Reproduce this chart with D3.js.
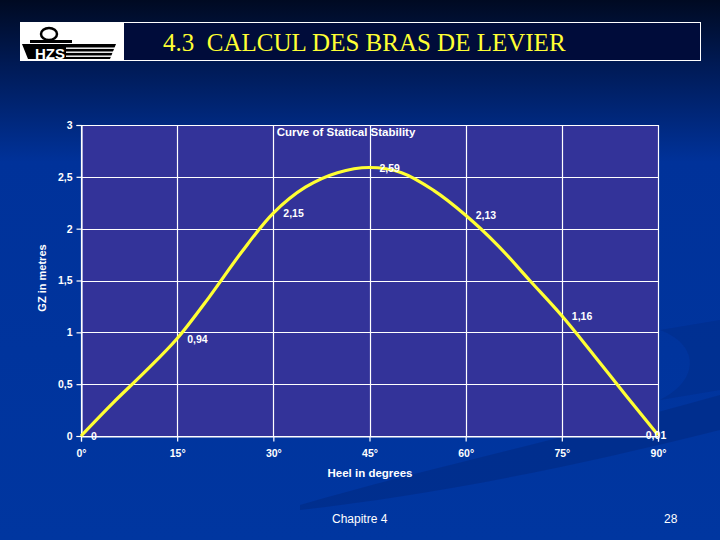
<!DOCTYPE html>
<html><head><meta charset="utf-8">
<script src="https://cdn.jsdelivr.net/npm/d3@7"></script>
<style>html,body{margin:0;padding:0;background:#002a8a;}svg{display:block;}</style>
</head><body>
<script>
const heelDegrees = [0, 5, 10, 15, 20, 25, 30, 35, 40, 45, 50, 55, 60, 65, 70, 75, 80, 85, 90];
const gzValues = [0, 0.32, 0.62, 0.94, 1.34, 1.77, 2.15, 2.40, 2.54, 2.59, 2.54, 2.37, 2.13, 1.84, 1.50, 1.16, 0.78, 0.39, 0.01];
const labelDegrees = [0, 15, 30, 45, 60, 75, 90];
const gzLabels = ["0", "0,94", "2,15", "2,59", "2,13", "1,16", "0,01"];
const yTicks = [0, 0.5, 1, 1.5, 2, 2.5, 3];
const yTickLabels = ["0", "0,5", "1", "1,5", "2", "2,5", "3"];
const xTicks = [0, 15, 30, 45, 60, 75, 90];
const xTickLabels = ["0°", "15°", "30°", "45°", "60°", "75°", "90°"];
const slideTitle = "4.3  CALCUL DES BRAS DE LEVIER";
const chartTitle = "Curve of Statical Stability";
const xTitle = "Heel in degrees";
const yTitle = "GZ in metres";
const footerLeft = "Chapitre 4";
const footerRight = "28";

(function(){
const W = 720, H = 540;
const svg = d3.select("body").append("svg").attr("width", W).attr("height", H);
const defs = svg.append("defs");
const bg = defs.append("linearGradient").attr("id","bg").attr("x1",0).attr("y1",0).attr("x2",0).attr("y2",1);
bg.append("stop").attr("offset","0%").attr("stop-color","#000a22");
bg.append("stop").attr("offset","12%").attr("stop-color","#001a55");
bg.append("stop").attr("offset","30%").attr("stop-color","#00329a");
bg.append("stop").attr("offset","100%").attr("stop-color","#0036a0");
svg.append("rect").attr("width",W).attr("height",H).attr("fill","url(#bg)");
// swoosh
svg.append("path")
  .attr("d","M300,505 C420,470 560,440 720,395 L720,430 C560,470 430,495 300,510 Z")
  .attr("fill","#002c88").attr("opacity",0.7);
svg.append("path")
  .attr("d","M660,330 C700,345 700,380 660,400 L720,390 L720,320 Z")
  .attr("fill","#002c88").attr("opacity",0.5);

// header
svg.append("rect").attr("x",20.5).attr("y",22.5).attr("width",680).attr("height",38)
  .attr("fill","#000c3a").attr("stroke","#ffffff").attr("stroke-width",1);
const logo = svg.append("g");
logo.append("rect").attr("x",20).attr("y",22).attr("width",104).attr("height",39).attr("fill","#ffffff");
logo.append("ellipse").attr("cx",49).attr("cy",34).attr("rx",8).attr("ry",6).attr("fill","none").attr("stroke","#000").attr("stroke-width",2.5);
logo.append("rect").attr("x",30).attr("y",40).attr("width",42).attr("height",3).attr("fill","#000");
logo.append("path").attr("d","M22,44 L116,44 L110,59 L28,59 Z").attr("fill","#000");
[47.5,51.5,55.5].forEach(y=>logo.append("rect").attr("x",66).attr("y",y).attr("width",52).attr("height",1.4).attr("fill","#fff"));
logo.append("text").attr("x",50).attr("y",58.5).attr("text-anchor","middle")
  .attr("font-family","Liberation Sans, Arial").attr("font-weight","bold").attr("font-size",15)
  .attr("textLength",30).attr("lengthAdjust","spacingAndGlyphs")
  .attr("fill","#fff").text("HZS");
svg.append("text").attr("x",163).attr("y",51).attr("fill","#ffff33")
  .attr("font-family","Liberation Serif, Times New Roman, serif").attr("font-size",25)
  .attr("xml:space","preserve").style("white-space","pre").text(slideTitle);

// chart
const pl = 81, pr = 658, pt = 125, pb = 436;
const x = d3.scaleLinear().domain([0,90]).range([pl,pr]);
const y = d3.scaleLinear().domain([0,3]).range([pb,pt]);
svg.append("rect").attr("x",pl).attr("y",pt).attr("width",pr-pl).attr("height",pb-pt).attr("fill","#333399");

const font = "Liberation Sans, Arial, sans-serif";
const g = svg.append("g");
g.selectAll("line.hg").data(yTicks).join("line")
  .attr("x1",pl).attr("x2",pr).attr("y1",d=>Math.round(y(d))+0.5).attr("y2",d=>Math.round(y(d))+0.5)
  .attr("stroke","#fff").attr("stroke-width",1.2);
g.selectAll("line.vg").data(xTicks).join("line")
  .attr("y1",pt).attr("y2",pb).attr("x1",d=>Math.round(x(d))+0.5).attr("x2",d=>Math.round(x(d))+0.5)
  .attr("stroke","#fff").attr("stroke-width",1.2);

const yAxis = d3.axisLeft(y).tickValues(yTicks).tickFormat((d,i)=>yTickLabels[i]).tickSize(5).tickPadding(4);
const ya = svg.append("g").attr("transform",`translate(${pl+0.5},0)`).call(yAxis);
const xAxis = d3.axisBottom(x).tickValues(xTicks).tickFormat((d,i)=>xTickLabels[i]).tickSize(5).tickPadding(8);
const xa = svg.append("g").attr("transform",`translate(0,${pb+0.5})`).call(xAxis);
[ya,xa].forEach(a=>{
  a.select(".domain").attr("stroke","#fff").attr("stroke-width",1.2);
  a.selectAll(".tick line").attr("stroke","#fff").attr("stroke-width",1.2);
  a.selectAll(".tick text").attr("fill","#fff").attr("font-family",font).attr("font-weight","bold").attr("font-size",10.5);
});

const line = d3.line().x((d,i)=>x(heelDegrees[i])).y(d=>y(d)).curve(d3.curveCatmullRom.alpha(0.5));
svg.append("path").datum(gzValues).attr("d",line).attr("fill","none")
  .attr("stroke","#ffff33").attr("stroke-width",3.2).attr("stroke-linejoin","round");

const labelData = labelDegrees.map((deg,i)=>({deg, v: gzValues[heelDegrees.indexOf(deg)], t: gzLabels[i]}));
const last = labelData.length-1;
svg.selectAll("text.lbl").data(labelData).join("text")
  .attr("x",(d,i)=> i===last ? x(d.deg) - 2 : x(d.deg) + 10)
  .attr("y",d=> y(d.v) + 4)
  .attr("text-anchor",(d,i)=> i===last ? "middle" : "start")
  .attr("fill","#fff").attr("font-family",font).attr("font-weight","bold").attr("font-size",10.5)
  .text(d=>d.t);

svg.append("text").attr("x",346).attr("y",136).attr("text-anchor","middle").attr("fill","#fff")
  .attr("font-family",font).attr("font-weight","bold").attr("font-size",11.5).text(chartTitle);
svg.append("text").attr("x",370).attr("y",477).attr("text-anchor","middle").attr("fill","#fff")
  .attr("font-family",font).attr("font-weight","bold").attr("font-size",11.5).text(xTitle);
svg.append("text").attr("transform","translate(46,278) rotate(-90)").attr("text-anchor","middle").attr("fill","#fff")
  .attr("font-family",font).attr("font-weight","bold").attr("font-size",11).text(yTitle);

svg.append("text").attr("x",332).attr("y",523).attr("fill","#fff").attr("font-family",font).attr("font-size",12).text(footerLeft);
svg.append("text").attr("x",664).attr("y",523).attr("fill","#fff").attr("font-family",font).attr("font-size",12).text(footerRight);
})();
</script>
</body></html>
